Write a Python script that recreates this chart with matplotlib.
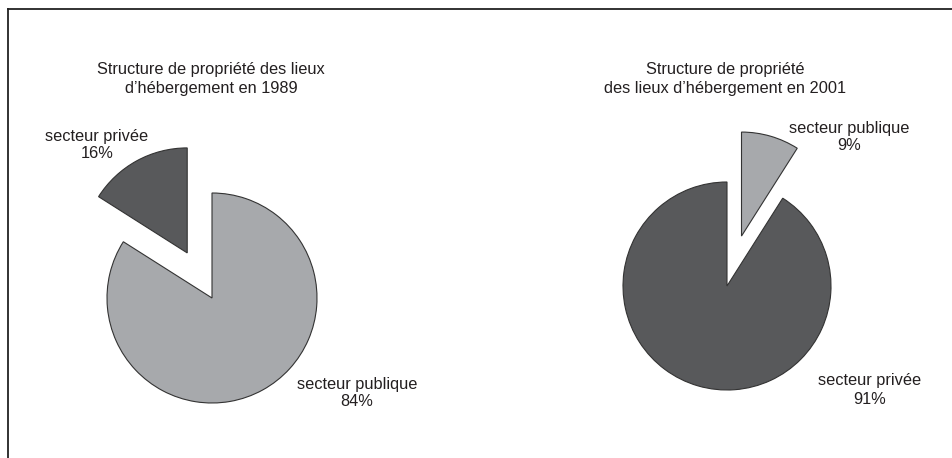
import matplotlib.pyplot as plt
from matplotlib.lines import Line2D

plt.rcParams["font.family"] = ["Liberation Sans", "DejaVu Sans"]

# data
labels_1989 = ["secteur privée", "secteur publique"]
values_1989 = [16, 84]
labels_2001 = ["secteur publique", "secteur privée"]
values_2001 = [9, 91]
title_1989 = "Structure de propriété des lieux\nd\u2019hébergement en 1989"
title_2001 = "Structure de propriété\ndes lieux d\u2019hébergement en 2001"

dark = "#58595b"
light = "#a7a9ac"
txt = "#231f20"

W, H = 952, 458
fig = plt.figure(figsize=(W / 100, H / 100), dpi=100)
ax = fig.add_axes([0, 0, 1, 1])

# pixel-like coordinates, y measured from top
def py(y):
    return H - y

wp = dict(edgecolor="#333333", linewidth=0.8)

r1, r2 = 105, 104
# explode in data units (pie does not scale it by the radius)
ax.pie(values_1989, colors=[dark, light], startangle=90, counterclock=True,
       explode=[0.49 * r1, 0], radius=r1, center=(212, py(298)),
       wedgeprops=wp, frame=True)
ax.pie(values_2001, colors=[light, dark], startangle=90, counterclock=False,
       explode=[0.5 * r2, 0], radius=r2, center=(727, py(286)),
       wedgeprops=wp, frame=True)

ax.set_xlim(0, W)
ax.set_ylim(0, H)
ax.set_aspect("equal")
ax.axis("off")

fs = 11.8
ax.text(211, py(79), title_1989, ha="center", va="center", fontsize=fs,
        color=txt, linespacing=1.3)
ax.text(725, py(79), title_2001, ha="center", va="center", fontsize=fs,
        color=txt, linespacing=1.3)

# slice labels
ax.text(97, py(145), f"{labels_1989[0]}\n{values_1989[0]}%", ha="center",
        va="center", fontsize=fs, color=txt, linespacing=1.25)
ax.text(357, py(393), f"{labels_1989[1]}\n{values_1989[1]}%", ha="center",
        va="center", fontsize=fs, color=txt, linespacing=1.25)
ax.text(849, py(137), f"{labels_2001[0]}\n{values_2001[0]}%", ha="center",
        va="center", fontsize=fs, color=txt, linespacing=1.25)
ax.text(870, py(390), f"{labels_2001[1]}\n{values_2001[1]}%", ha="center",
        va="center", fontsize=fs, color=txt, linespacing=1.25)

# frame lines (top and left only)
ax.add_line(Line2D([8, W], [py(9), py(9)], color="#222222", linewidth=1.3))
ax.add_line(Line2D([8, 8], [py(9), 0], color="#222222", linewidth=1.3))

fig.savefig("out.png", dpi=100)
